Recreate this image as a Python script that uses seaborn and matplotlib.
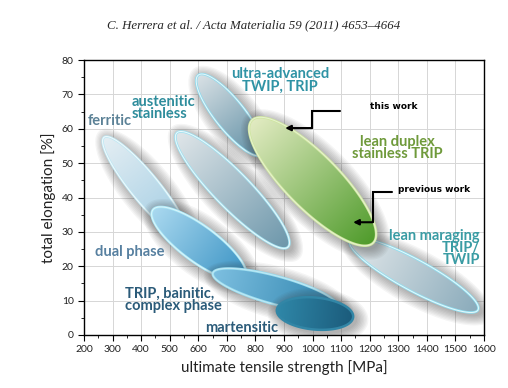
import numpy as np
import matplotlib
matplotlib.use("Agg")
import matplotlib.pyplot as plt
from matplotlib.patches import Polygon
from matplotlib.ticker import MultipleLocator
import seaborn as sns

# property fields of the steel classes: upper-left end -> lower-right end of each "banana"
fields = ["ferritic", "austenitic", "ultra", "maraging", "duplex", "dual", "trip", "mart"]
uts_start = [270, 525, 600, 1130, 788, 441, 651, 875]
uts_end = [560, 914, 823, 1579, 1212, 764, 1089, 1142]
el_start = [57.5, 58.8, 75.6, 27.6, 62.5, 36.4, 18.0, 7.3]
el_end = [28.0, 25.6, 52.4, 7.3, 26.8, 16.6, 8.1, 5.2]

labels = ["ferritic", "austenitic\nstainless", "ultra-advanced\nTWIP, TRIP",
          "lean maraging\nTRIP/\nTWIP", "lean duplex\nstainless TRIP", "dual phase",
          "TRIP, bainitic,\ncomplex phase", "martensitic"]
label_x = [214, 368, 886, 1586, 1296, 361, 344, 753]
label_y = [62.2, 66.0, 74.1, 25.3, 54.4, 24.1, 10.2, 2.0]

# "this work" / "previous work" callouts (elbow lines)
callouts = ["this work", "previous work"]
callout_x = [[1096, 998, 998, 904], [1278, 1211, 1211, 1142]]
callout_y = [[65.1, 65.1, 60.2, 60.2], [41.6, 41.6, 32.8, 32.8]]
callout_text_x = [1201, 1299]
callout_text_y = [66.6, 42.2]

# styles (band width in px, gradient colours, outline, label style)
style = {
    "ferritic": dict(w=28, c=["#e4eef3", "#9ccae2"], edge="#bfe8f4", wa=0.8,
                     lc="#5b8196", ha="left"),
    "austenitic": dict(w=36, c=["#e0e6e9", "#6d97ab"], edge="#9fe2f2", wa=0.8,
                       lc="#2e8d9c", ha="left"),
    "ultra": dict(w=30, c=["#d9e1e5", "#5e8ea4"], edge="#8fdcef", wa=0.8,
                  lc="#2f93a5", ha="center"),
    "maraging": dict(w=31, c=["#e3e8ea", "#8aabbb"], edge="#8fe0f2", wa=0.8,
                     lc="#3a9ca4", ha="right"),
    "duplex": dict(w=54, c=["#e2ebc2", "#4f9b2b"], edge="#cfe6a0", wa=0.5,
                   lc="#6f9a3b", ha="center"),
    "dual": dict(w=36, c=["#a9d8ef", "#3a93c4"], edge="#a9e8f7", wa=0.6,
                 lc="#5780a0", ha="center"),
    "trip": dict(w=28, c=["#7dbfe0", "#2d83ad"], edge="#98dcef", wa=0.4,
                 lc="#2b5b79", ha="left"),
    "mart": dict(w=32, c=["#2f87a8", "#1b5b7b"], edge="#3286a6", wa=0.0,
                 lc="#2b5b79", ha="center"),
}

sns.set_theme(style="whitegrid")
plt.rcParams["font.family"] = ["Lato", "DejaVu Sans"]

fig = plt.figure(figsize=(5.08, 3.88), dpi=100)
fig.patch.set_facecolor("white")
ax = fig.add_axes([84 / 508, 1 - 335 / 388, 400 / 508, 275 / 388])
ax.set_facecolor("white")
ax.set_xlim(200, 1600)
ax.set_ylim(0, 80)


def ellipse(p1, p2, width_px, grow=0.0, shift=(0, 0), n=240):
    d1 = ax.transData.transform(p1)
    d2 = ax.transData.transform(p2)
    c = (d1 + d2) / 2 + np.array(shift)
    v = (d2 - d1) / 2
    L = np.hypot(*v)
    u = v / L
    nrm = np.array([-u[1], u[0]])
    t = np.linspace(0, 2 * np.pi, n)
    pts = (c + np.outer(np.cos(t), u * (L + grow))
           + np.outer(np.sin(t), nrm * (width_px / 2 + grow)))
    return ax.transData.inverted().transform(pts), d1, d2, nrm


z = 3
for i, f in enumerate(fields):
    s = style[f]
    p1 = (uts_start[i], el_start[i])
    p2 = (uts_end[i], el_end[i])
    # soft drop shadow
    for k in range(9):
        pts, *_ = ellipse(p1, p2, s["w"], grow=1 + 1.4 * k, shift=(3, -3))
        ax.add_patch(Polygon(pts, closed=True, facecolor="#3c3c3c",
                             edgecolor="none", alpha=0.05, zorder=z))
    z += 1
    pts, d1, d2, nrm = ellipse(p1, p2, s["w"])
    patch = Polygon(pts, closed=True, facecolor="none", edgecolor="none", zorder=z)
    ax.add_patch(patch)
    # gradient along the band
    disp = ax.transData.transform(pts)
    x0, y0 = disp.min(axis=0) - 2
    x1, y1 = disp.max(axis=0) + 2
    gx, gy = np.meshgrid(np.linspace(x0, x1, 220), np.linspace(y0, y1, 220))
    axis_v = d2 - d1
    tt = ((gx - d1[0]) * axis_v[0] + (gy - d1[1]) * axis_v[1]) / (axis_v @ axis_v)
    tt = np.clip(tt, 0, 1)
    cmap = sns.blend_palette(s["c"], n_colors=256, as_cmap=True)
    (ex0, ey0) = ax.transData.inverted().transform((x0, y0))
    (ex1, ey1) = ax.transData.inverted().transform((x1, y1))
    im = ax.imshow(tt, cmap=cmap, vmin=0, vmax=1, origin="lower", aspect="auto",
                   extent=(ex0, ex1, ey0, ey1), interpolation="bilinear", zorder=z)
    im.set_clip_path(patch)
    ax.add_patch(Polygon(pts, closed=True, facecolor="none", edgecolor=s["edge"],
                         lw=1.8, zorder=z + 0.4))
    if s["wa"] > 0:
        ax.add_patch(Polygon(pts, closed=True, facecolor="none", edgecolor="white",
                             lw=0.7, alpha=s["wa"], zorder=z + 0.5))
    z += 1

ax.set_xlim(200, 1600)
ax.set_ylim(0, 80)

for i, f in enumerate(fields):
    s = style[f]
    ax.text(label_x[i], label_y[i], labels[i], color=s["lc"], fontsize=10.5,
            fontweight="bold", ha=s["ha"], va="center", linespacing=0.85,
            zorder=40)

for i in range(len(callouts)):
    ax.plot(callout_x[i][:-1], callout_y[i][:-1], color="black", lw=1.5,
            solid_joinstyle="miter", zorder=41)
    ax.annotate("", xy=(callout_x[i][-1], callout_y[i][-1]),
                xytext=(callout_x[i][-2], callout_y[i][-2]),
                arrowprops=dict(arrowstyle="-|>", color="black", lw=1.5,
                                mutation_scale=8, shrinkA=0, shrinkB=0),
                zorder=41)
    ax.text(callout_text_x[i], callout_text_y[i], callouts[i], fontsize=6.5,
            fontweight="bold", color="black", ha="left", va="center",
            family=["DejaVu Sans"], zorder=41)

ax.xaxis.set_major_locator(MultipleLocator(100))
ax.xaxis.set_minor_locator(MultipleLocator(50))
ax.yaxis.set_major_locator(MultipleLocator(10))
ax.yaxis.set_minor_locator(MultipleLocator(5))
ax.grid(True, which="major", color="#d6d6d6", lw=0.7)
ax.grid(False, which="minor")
ax.set_axisbelow(True)
ax.tick_params(which="both", direction="out", colors="black", labelsize=7.5,
               labelcolor="#222222", bottom=True, left=True)
ax.tick_params(which="major", length=4, width=0.8)
ax.tick_params(which="minor", length=2, width=0.6)
for sp in ax.spines.values():
    sp.set_color("black")
    sp.set_linewidth(1.0)

ax.set_xlabel("ultimate tensile strength [MPa]", fontsize=11, color="#222222",
              labelpad=4)
ax.set_ylabel("total elongation [%]", fontsize=11, color="#222222", labelpad=4)

fig.text(0.5, 1 - 25 / 388, "C. Herrera et al. / Acta Materialia 59 (2011) 4653–4664",
         ha="center", va="center", fontsize=9.3, style="italic",
         family=["Liberation Serif"])

fig.savefig("out.png", dpi=100, facecolor="white")
